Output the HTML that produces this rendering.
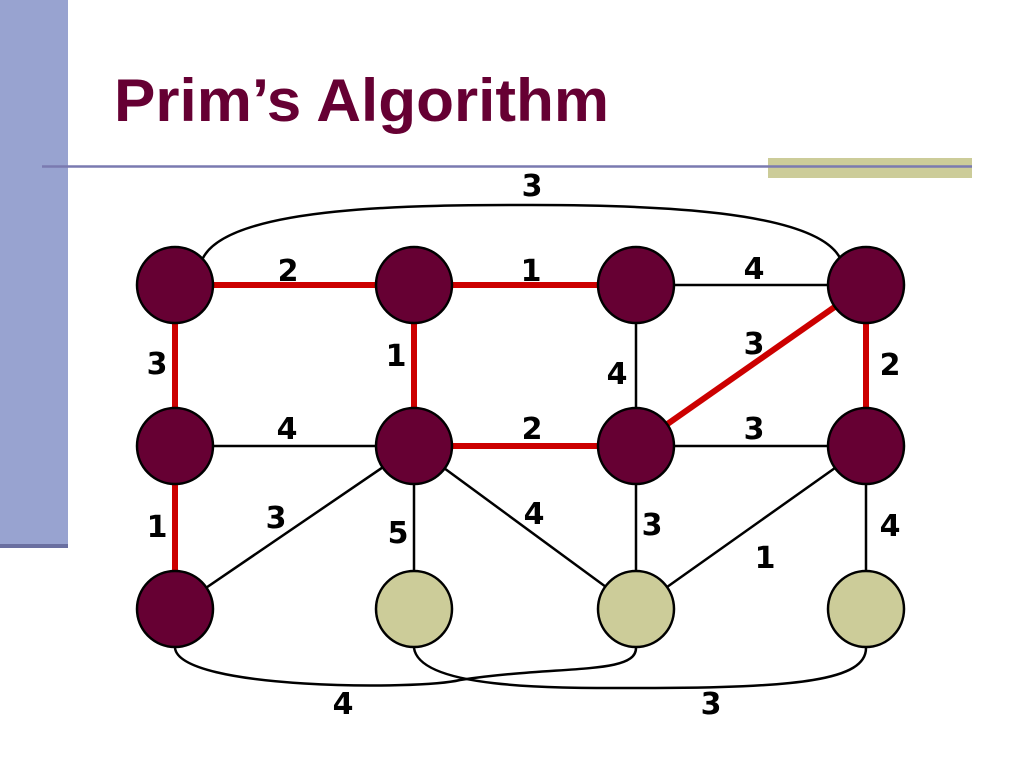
<!DOCTYPE html>
<html><head><meta charset="utf-8"><style>
html,body{margin:0;padding:0;background:#fff;}
svg{display:block;}
</style></head><body>
<svg width="1024" height="768" viewBox="0 0 1024 768" xmlns="http://www.w3.org/2000/svg">
<rect x="0" y="0" width="68" height="546" fill="#98a3d0"/>
<rect x="0" y="544" width="68" height="4" fill="#6a6fa0"/>
<rect x="768" y="158" width="204" height="20" fill="#cccc99"/>
<line x1="42" y1="166.5" x2="972" y2="166.5" stroke="#7a7ab0" stroke-width="2.5"/>
<text x="114" y="121" font-family="Liberation Sans, sans-serif" font-weight="bold" font-size="60" fill="#660033" textLength="495" lengthAdjust="spacingAndGlyphs">Prim’s Algorithm</text>
<g fill="none" stroke="#000" stroke-width="2.5">
<path d="M203,258 C230,205 420,205 532,205 C650,205 815,210 840,258"/>
<path d="M175,648 C180,690 420,690 460,680 C560,665 636,675 636,648"/>
<path d="M414,648 C420,690 560,688 640,688 C800,688 866,680 866,648"/>
<line x1="636" y1="285" x2="866" y2="285"/>
<line x1="636" y1="285" x2="636" y2="446"/>
<line x1="175" y1="446" x2="414" y2="446"/>
<line x1="636" y1="446" x2="866" y2="446"/>
<line x1="175" y1="609" x2="414" y2="446"/>
<line x1="414" y1="446" x2="414" y2="609"/>
<line x1="414" y1="446" x2="636" y2="609"/>
<line x1="636" y1="446" x2="636" y2="609"/>
<line x1="636" y1="609" x2="866" y2="446"/>
<line x1="866" y1="446" x2="866" y2="609"/>
</g>
<g stroke="#cc0000" stroke-width="6">
<line x1="175" y1="285" x2="414" y2="285"/>
<line x1="414" y1="285" x2="636" y2="285"/>
<line x1="175" y1="285" x2="175" y2="446"/>
<line x1="414" y1="285" x2="414" y2="446"/>
<line x1="414" y1="446" x2="636" y2="446"/>
<line x1="636" y1="446" x2="866" y2="285"/>
<line x1="866" y1="285" x2="866" y2="446"/>
<line x1="175" y1="446" x2="175" y2="609"/>
</g>
<g stroke="#000" stroke-width="2.5" fill="#660033">
<circle cx="175" cy="285" r="38"/><circle cx="414" cy="285" r="38"/><circle cx="636" cy="285" r="38"/><circle cx="866" cy="285" r="38"/>
<circle cx="175" cy="446" r="38"/><circle cx="414" cy="446" r="38"/><circle cx="636" cy="446" r="38"/><circle cx="866" cy="446" r="38"/>
<circle cx="175" cy="609" r="38"/>
<circle cx="414" cy="609" r="38" fill="#cccc99"/><circle cx="636" cy="609" r="38" fill="#cccc99"/><circle cx="866" cy="609" r="38" fill="#cccc99"/>
</g>
<g font-family="DejaVu Sans, sans-serif" font-weight="bold" font-size="30" fill="#000" text-anchor="middle">
<text x="532" y="196">3</text>
<text x="288" y="281">2</text>
<text x="531" y="281">1</text>
<text x="754" y="279">4</text>
<text x="157" y="374">3</text>
<text x="396" y="366">1</text>
<text x="617" y="384">4</text>
<text x="754" y="354">3</text>
<text x="890" y="375">2</text>
<text x="287" y="439">4</text>
<text x="532" y="439">2</text>
<text x="754" y="439">3</text>
<text x="157" y="537">1</text>
<text x="276" y="528">3</text>
<text x="398" y="543">5</text>
<text x="534" y="524">4</text>
<text x="652" y="535">3</text>
<text x="765" y="568">1</text>
<text x="890" y="536">4</text>
<text x="343" y="714">4</text>
<text x="711" y="714">3</text>
</g>
</svg>
</body></html>
